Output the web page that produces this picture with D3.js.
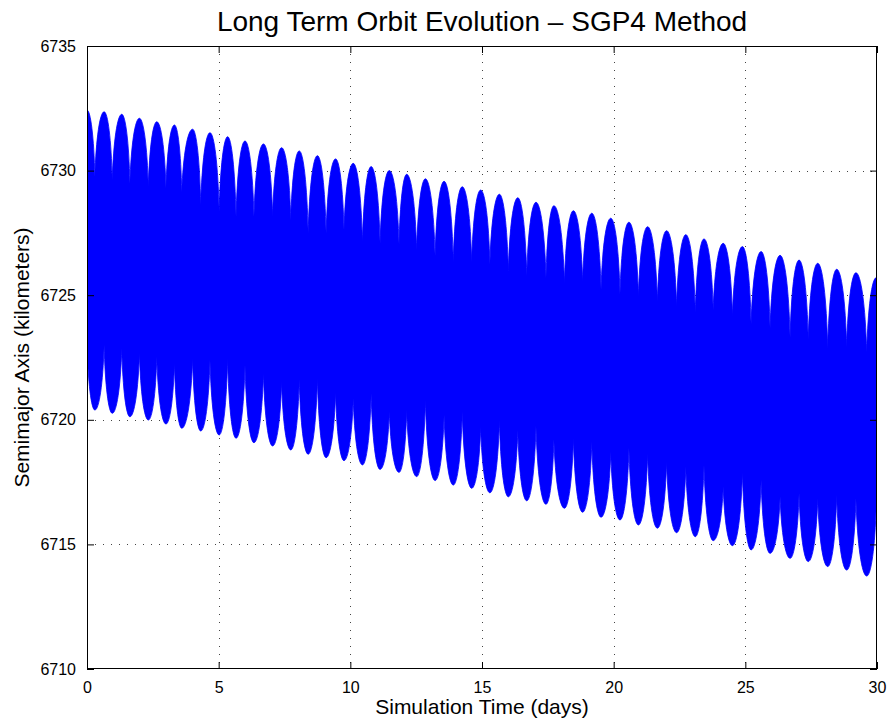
<!DOCTYPE html>
<html>
<head>
<meta charset="utf-8">
<script src="https://cdn.jsdelivr.net/npm/d3@7"></script>
<style>
  body { margin: 0; background: #fff; }
  text { font-family: "Liberation Sans", Arial, sans-serif; fill: #000; }
</style>
</head>
<body>
<div id="chart"></div>
<script>
////// DATA
// days where the band bulges up (long-period crests)
var peakDay = [0.00, 0.65, 1.32, 1.99, 2.65, 3.32, 4.01, 4.67, 5.34, 6.00,
  6.70, 7.39, 8.06, 8.75, 9.44, 10.11, 10.79, 11.48, 12.14, 12.85,
  13.56, 14.25, 14.95, 15.66, 16.36, 17.05, 17.73, 18.47, 19.17, 19.89,
  20.58, 21.29, 22.01, 22.74, 23.43, 24.16, 24.89, 25.60, 26.32, 27.04,
  27.75, 28.47, 29.20, 29.97];
// upper edge of the trace at those days (km)
var peakTop = [6732.43, 6732.36, 6732.26, 6732.10, 6731.96, 6731.83, 6731.66, 6731.52, 6731.36, 6731.19,
  6731.07, 6730.92, 6730.79, 6730.60, 6730.47, 6730.29, 6730.16, 6730.00, 6729.85, 6729.67,
  6729.57, 6729.35, 6729.22, 6729.05, 6728.91, 6728.73, 6728.59, 6728.39, 6728.29, 6728.09,
  6727.93, 6727.75, 6727.59, 6727.43, 6727.26, 6727.08, 6726.95, 6726.75, 6726.60, 6726.41,
  6726.28, 6726.04, 6725.90, 6725.70];
// lower edge of the trace at those days (km)
var peakBottom = [6723.12, 6723.00, 6722.87, 6722.69, 6722.53, 6722.29, 6722.47, 6722.40, 6722.47, 6722.20,
  6721.89, 6721.53, 6721.63, 6721.67, 6721.13, 6720.86, 6721.06, 6720.33, 6720.39, 6720.80,
  6720.19, 6720.33, 6719.72, 6719.99, 6719.59, 6719.75, 6719.22, 6719.27, 6719.12, 6718.72,
  6718.87, 6718.66, 6718.32, 6718.12, 6718.19, 6717.32, 6717.92, 6717.58, 6716.91, 6717.05,
  6716.85, 6716.98, 6716.85, 6716.58];

// days where the band dips (between crests)
var dipDay = [0.30, 0.96, 1.63, 2.33, 3.00, 3.60, 4.32, 5.02, 5.66, 6.34,
  7.05, 7.74, 8.40, 9.08, 9.76, 10.46, 11.13, 11.85, 12.52, 13.22,
  13.91, 14.61, 15.30, 16.00, 16.70, 17.43, 18.13, 18.82, 19.52, 20.24,
  20.94, 21.66, 22.39, 23.10, 23.78, 24.51, 25.22, 25.94, 26.70, 27.39,
  28.13, 28.85, 29.61];
// upper edge at the dips (km)
var dipTop = [6729.75, 6729.62, 6729.49, 6729.34, 6729.29, 6729.14, 6728.62, 6728.35, 6728.15, 6728.16,
  6728.15, 6728.01, 6727.49, 6727.49, 6727.61, 6727.10, 6727.07, 6727.04, 6726.79, 6726.57,
  6726.33, 6726.32, 6726.25, 6725.97, 6725.77, 6725.69, 6725.48, 6725.53, 6725.22, 6725.04,
  6724.95, 6724.74, 6724.54, 6724.30, 6724.40, 6724.17, 6723.84, 6723.67, 6723.30, 6723.22,
  6722.87, 6722.92, 6722.71];
// lower edge at the dips (km)
var dipBottom = [6720.39, 6720.26, 6720.12, 6719.99, 6719.83, 6719.66, 6719.55, 6719.39, 6719.26, 6719.08,
  6718.95, 6718.79, 6718.62, 6718.48, 6718.36, 6718.19, 6718.01, 6717.89, 6717.72, 6717.56,
  6717.38, 6717.25, 6717.07, 6716.91, 6716.75, 6716.61, 6716.45, 6716.29, 6716.09, 6715.98,
  6715.78, 6715.65, 6715.47, 6715.31, 6715.15, 6714.95, 6714.78, 6714.64, 6714.44, 6714.31,
  6714.11, 6713.97, 6713.73];

var xTicks = [0, 5, 10, 15, 20, 25, 30];
var yTicks = [6710, 6715, 6720, 6725, 6730, 6735];

////// SETUP SVG
var W = 891, H = 719;
var margin = { top: 46, right: 14, bottom: 50, left: 87 },
    width = W - margin.left - margin.right,
    height = H - margin.top - margin.bottom;

var root = d3.select("#chart")
    .append("svg")
    .attr("width", W)
    .attr("height", H);

root.append("rect").attr("width", W).attr("height", H).attr("fill", "#fff");

var svg = root.append("g")
    .attr("transform", "translate(" + margin.left + "," + margin.top + ")");

var x = d3.scaleLinear().domain([0, 30]).range([0, width]);
var y = d3.scaleLinear().domain([6710, 6735]).range([height, 0]);

////// GRID (dotted, matlab style)
svg.append("g")
    .selectAll("line")
    .data(xTicks.slice(1, -1))
    .enter().append("line")
    .attr("x1", function(d) { return Math.round(x(d)) + 0.5; })
    .attr("x2", function(d) { return Math.round(x(d)) + 0.5; })
    .attr("y1", 0).attr("y2", height)
    .attr("stroke", "#444")
    .attr("stroke-dasharray", "1,7");

svg.append("g")
    .selectAll("line")
    .data(yTicks.slice(1, -1))
    .enter().append("line")
    .attr("y1", function(d) { return Math.round(y(d)) + 0.5; })
    .attr("y2", function(d) { return Math.round(y(d)) + 0.5; })
    .attr("x1", 0).attr("x2", width)
    .attr("stroke", "#444")
    .attr("stroke-dasharray", "1,7");

////// CURVE: round on the outside of the band, pointed notches on the inside
function ArchCurve(context) { this._context = context; }
ArchCurve.prototype = {
    areaStart: function() { this._line = 0; this._edge = 0; },
    areaEnd: function() { this._line = NaN; },
    lineStart: function() { this._point = 0; },
    lineEnd: function() {
        if (this._line || (this._line !== 0 && this._point === 1)) this._context.closePath();
        this._line = 1 - this._line;
        this._edge++;
    },
    point: function(px, py) {
        px = +px; py = +py;
        if (this._point === 0) {
            this._point = 1;
            this._line ? this._context.lineTo(px, py) : this._context.moveTo(px, py);
        } else {
            var dx = px - this._x, dy = py - this._y;
            // top edge: upper point is the rounded one; bottom edge: lower point
            var endRound = this._edge === 0 ? py < this._y : py > this._y;
            if (endRound) {
                this._context.bezierCurveTo(this._x + dx * 0.12, this._y + dy * 0.6,
                    px - dx * 0.45, py, px, py);
            } else {
                this._context.bezierCurveTo(this._x + dx * 0.45, this._y,
                    px - dx * 0.12, py - dy * 0.6, px, py);
            }
        }
        this._x = px; this._y = py;
    }
};
function archCurve(context) { return new ArchCurve(context); }

////// THE TRACE
var samples = [];
peakDay.forEach(function(d, i) {
    samples.push({ day: d, top: peakTop[i], bottom: peakBottom[i] });
    if (i < dipDay.length) {
        samples.push({ day: dipDay[i], top: dipTop[i], bottom: dipBottom[i] });
    }
});

svg.append("clipPath").attr("id", "clip")
    .append("rect").attr("width", width).attr("height", height);

var band = d3.area()
    .x(function(d) { return x(d.day); })
    .y0(function(d) { return y(d.bottom); })
    .y1(function(d) { return y(d.top); })
    .curve(archCurve);

svg.append("path")
    .datum(samples)
    .attr("clip-path", "url(#clip)")
    .attr("d", band)
    .attr("fill", "#0000ff")
    .attr("stroke", "#0000ff")
    .attr("stroke-width", 0.8);

////// AXES (ticks inside, box all round)
var tl = 7;
svg.append("g")
    .attr("transform", "translate(0," + height + ")")
    .call(d3.axisBottom(x).tickValues(xTicks).tickSize(-tl).tickPadding(tl + 6))
    .call(function(g) { g.select(".domain").remove(); });

svg.append("g")
    .call(d3.axisTop(x).tickValues(xTicks).tickSize(-tl).tickFormat(""))
    .call(function(g) { g.select(".domain").remove(); });

svg.append("g")
    .call(d3.axisLeft(y).tickValues(yTicks).tickSize(-tl).tickPadding(tl + 4).tickFormat(d3.format("d")))
    .call(function(g) { g.select(".domain").remove(); });

svg.append("g")
    .attr("transform", "translate(" + width + ",0)")
    .call(d3.axisRight(y).tickValues(yTicks).tickSize(-tl).tickFormat(""))
    .call(function(g) { g.select(".domain").remove(); });

svg.selectAll(".tick text")
    .attr("font-size", "16px")
    .attr("font-family", "'Liberation Sans', Arial, sans-serif");
svg.selectAll(".tick line").attr("stroke", "#000");

svg.append("rect")
    .attr("x", 0.5).attr("y", 0.5)
    .attr("width", width - 1).attr("height", height - 1)
    .attr("fill", "none")
    .attr("stroke", "#000")
    .attr("stroke-width", 1);

////// LABELS
root.append("text")
    .attr("x", margin.left + width / 2)
    .attr("y", 31)
    .attr("text-anchor", "middle")
    .attr("font-size", "28px")
    .text("Long Term Orbit Evolution \u2013 SGP4 Method");

root.append("text")
    .attr("x", margin.left + width / 2)
    .attr("y", 714)
    .attr("text-anchor", "middle")
    .attr("font-size", "21px")
    .text("Simulation Time (days)");

root.append("text")
    .attr("transform", "translate(29," + (margin.top + height / 2) + ") rotate(-90)")
    .attr("text-anchor", "middle")
    .attr("font-size", "21px")
    .text("Semimajor Axis (kilometers)");
</script>
</body>
</html>
